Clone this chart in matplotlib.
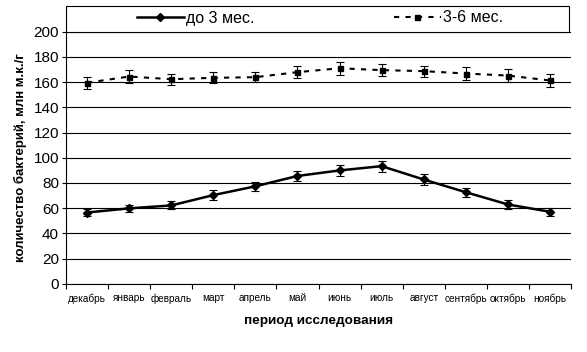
import matplotlib
matplotlib.use('Agg')
import matplotlib.pyplot as plt
import numpy as np

plt.rcParams['font.family'] = ['Liberation Sans', 'DejaVu Sans']

# data
months = ['декабрь', 'январь', 'февраль', 'март', 'апрель', 'май',
          'июнь', 'июль', 'август', 'сентябрь', 'октябрь', 'ноябрь']
young = [56.5, 59.8, 62.1, 70.3, 77.3, 85.5, 89.9, 93.3, 82.7, 72.6, 62.9, 57.1]
young_err = [2.8, 3.0, 3.2, 4.1, 3.8, 3.7, 4.4, 4.4, 4.1, 3.7, 3.3, 3.3]
older = [159.5, 164.4, 162.3, 163.4, 163.9, 167.9, 171.0, 169.5, 168.7, 166.8, 165.2, 161.3]
older_err = [4.7, 5.0, 4.5, 4.5, 4.2, 5.0, 5.0, 4.7, 4.3, 5.0, 5.0, 5.0]
yticks = [0, 20, 40, 60, 80, 100, 120, 140, 160, 180, 200]

fig = plt.figure(figsize=(5.87, 3.52), dpi=100)
ax = fig.add_axes([66/587., 1-283.7/352., (571-66)/587., 252./352.])

x = np.arange(len(months)) + 0.5

ax.errorbar(x, young, yerr=young_err, fmt='none', ecolor='k', elinewidth=0.8,
            capsize=3.2, capthick=0.8, zorder=3)
ax.errorbar(x, older, yerr=older_err, fmt='none', ecolor='k', elinewidth=0.8,
            capsize=3.2, capthick=0.8, zorder=3)
l1, = ax.plot(x, young, color='k', lw=1.8, marker='D', markersize=4.3,
              label='до 3 мес.', zorder=4)
l2, = ax.plot(x, older, color='k', lw=1.5, ls=(0, (2.5, 3)), marker='s',
              markersize=3.6, label='3-6 мес.', zorder=4)

ax.set_xlim(0, 12)
ax.set_ylim(0, 200)
ax.set_yticks(yticks)
ax.set_xticks(np.arange(0, 13))
ax.set_xticklabels([])
ax.set_xticks(x, minor=True)
ax.set_xticklabels(months, minor=True, fontsize=7.2)
ax.tick_params(axis='x', which='minor', length=0, pad=7)
ax.tick_params(axis='x', which='major', length=3.5, width=0.8, direction='out')
ax.tick_params(axis='y', length=3, width=0.8, pad=2, labelsize=11)
ax.grid(axis='y', color='k', lw=0.8)
ax.set_axisbelow(True)
for s in ['top', 'right']:
    ax.spines[s].set_visible(False)
for s in ['left', 'bottom']:
    ax.spines[s].set_linewidth(0.8)

ax.set_xlabel('период исследования', fontsize=9.7, fontweight='bold', labelpad=8)
ax.set_ylabel('количество бактерий, млн м.к./г', fontsize=9.5, fontweight='bold',
              labelpad=5)

# legend box spanning the plot width above the plot
rect = plt.Rectangle((66/587., 1-31.7/352.), (569-66)/587., 25.5/352.,
                     transform=fig.transFigure, fill=False, ec='k', lw=0.8)
fig.patches.append(rect)
fig.legend(handles=[l1, l2], loc='center', bbox_to_anchor=(320/587., 1-18/352.),
           ncol=2, frameon=False, fontsize=11.5, handlelength=2.95,
           handletextpad=0.15, columnspacing=8.7)

fig.savefig('out.png', dpi=100)
